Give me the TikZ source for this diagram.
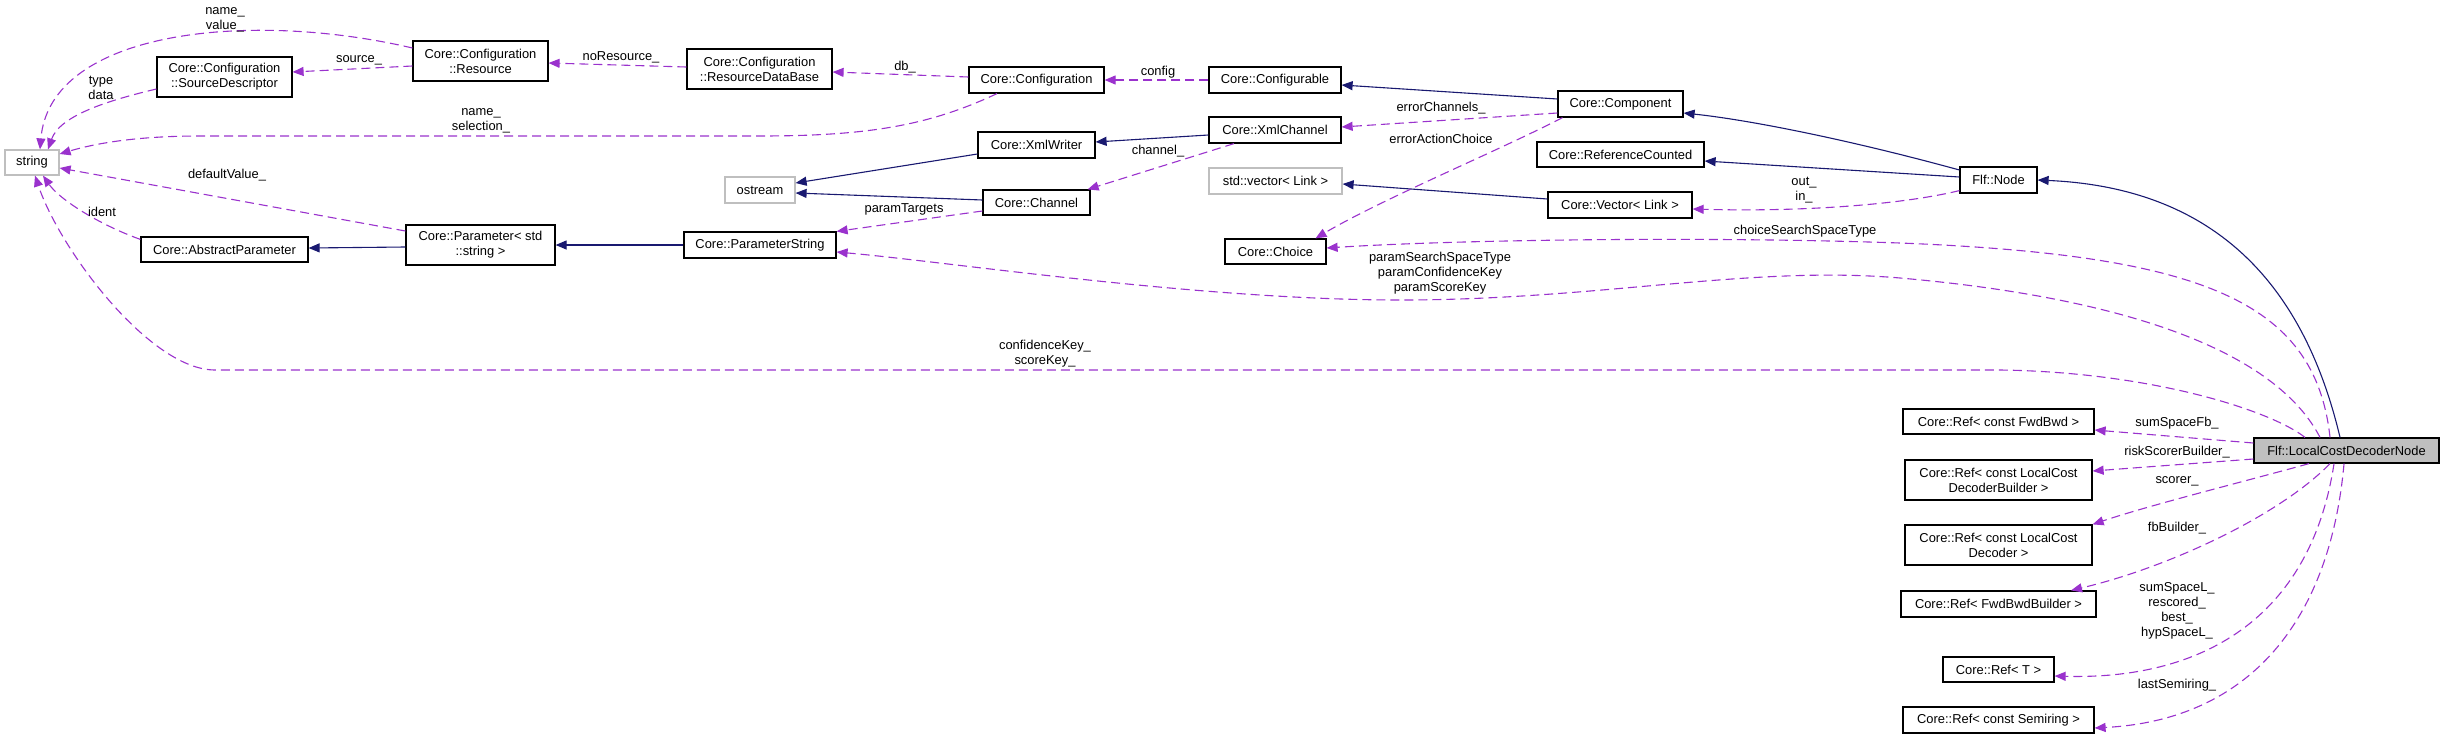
\documentclass[tikz,border=0pt]{standalone}
\usepackage{fontspec}
\setmainfont{Liberation Sans}
\usetikzlibrary{arrows.meta,calc}
\definecolor{depc}{HTML}{9A32CD}
\definecolor{inhc}{HTML}{191970}
\definecolor{gborder}{HTML}{BFBFBF}
\begin{document}
\begin{tikzpicture}[x=0.5pt,y=-0.5pt,
  font=\fontsize{6.45}{7.4}\selectfont,
  cls/.style={draw=black, line width=0.6pt, fill=white, inner sep=0pt, align=center},
  ext/.style={cls, draw=gborder},
  cur/.style={cls, fill=gborder},
  sz/.style 2 args={minimum width=#1*0.5pt, minimum height=#2*0.5pt},
  dep/.style={draw=depc, line width=0.55pt, dash pattern=on 4.5pt off 2.5pt, -{Triangle[length=5.5pt,width=4.5pt]}},
  inh/.style={draw=inhc, line width=0.55pt, -{Triangle[length=5.5pt,width=4.5pt]}},
  lab/.style={inner sep=0pt, align=center}]
\useasboundingbox (0,0) rectangle (2444,739);
% nodes
\node[ext, sz={54}{25}] (string) at (32,162.5) {string};
\node[cls, sz={135}{40}] (sd) at (224.5,77) {Core::Configuration\\::SourceDescriptor};
\node[cls, sz={135}{40}] (resource) at (480.5,61) {Core::Configuration\\::Resource};
\node[cls, sz={145}{40}] (rdb) at (759.5,69) {Core::Configuration\\::ResourceDataBase};
\node[cls, sz={135}{26}] (conf) at (1036.5,80) {Core::Configuration};
\node[cls, sz={132}{26}] (confable) at (1275,80) {Core::Configurable};
\node[cls, sz={125}{26}] (comp) at (1620.5,104) {Core::Component};
\node[cls, sz={117}{26}] (xmlw) at (1036.5,145) {Core::XmlWriter};
\node[cls, sz={132}{26}] (xmlc) at (1275,130) {Core::XmlChannel};
\node[ext, sz={70}{26}] (ostream) at (760,190) {ostream};
\node[cls, sz={107}{25}] (channel) at (1036.5,202.5) {Core::Channel};
\node[cls, sz={167}{25}] (refc) at (1620.5,154.5) {Core::ReferenceCounted};
\node[cls, sz={77}{26}] (flf) at (1998.5,180) {Flf::Node};
\node[ext, sz={133}{26}] (stdvec) at (1275.5,181) {std::vector< Link >};
\node[cls, sz={144}{26}] (vec) at (1620,205) {Core::Vector< Link >};
\node[cls, sz={101}{25}] (choice) at (1275.5,251.5) {Core::Choice};
\node[cls, sz={167}{25}] (absp) at (224.5,249.5) {Core::AbstractParameter};
\node[cls, sz={149}{40}] (param) at (480.5,245) {Core::Parameter< std\\::string >};
\node[cls, sz={152}{26}] (ps) at (760,245) {Core::ParameterString};
\node[cls, sz={191}{25}] (fwdbwd) at (1998.5,421.5) {Core::Ref< const FwdBwd >};
\node[cur, sz={185}{25}] (lcdn) at (2346.5,450.5) {Flf::LocalCostDecoderNode};
\node[cls, sz={187}{40}] (lcdb) at (1998.5,480) {Core::Ref< const LocalCost\\DecoderBuilder >};
\node[cls, sz={187}{40}] (lcd) at (1998.5,545) {Core::Ref< const LocalCost\\Decoder >};
\node[cls, sz={195}{26}] (fbb) at (1998.5,604) {Core::Ref< FwdBwdBuilder >};
\node[cls, sz={111}{25}] (reft) at (1998.5,669.5) {Core::Ref< T >};
\node[cls, sz={191}{26}] (semi) at (1998.5,720) {Core::Ref< const Semiring >};
% inheritance edges
\draw[inh] ($(comp.west)+(0,-5)$) -- ($(confable.east)+(0,5)$);
\draw[inh] ($(xmlc.west)+(0,5)$) -- ($(xmlw.east)+(0,-3)$);
\draw[inh] ($(xmlw.west)+(0,9)$) -- ($(ostream.east)+(0,-7)$);
\draw[inh] ($(channel.west)+(0,-2.5)$) -- ($(ostream.east)+(0,3)$);
\draw[inh] ($(flf.west)+(0,-10)$) .. controls (1850,140) and (1750,120) .. ($(comp.east)+(0,9)$);
\draw[inh] ($(flf.west)+(0,-3)$) -- ($(refc.east)+(0,6.5)$);
\draw[inh] ($(vec.west)+(0,-6)$) -- ($(stdvec.east)+(0,3)$);
\draw[inh] ($(param.west)+(0,2)$) -- ($(absp.east)+(0,-1.5)$);
\draw[inh] (ps.west) -- (param.east);
\draw[inh] ($(lcdn.north)+(-6.5,0)$) .. controls (2305,290) and (2220,188) .. (flf.east);
% dependency edges
\draw[dep] ($(resource.west)+(0,-13)$) .. controls (250,10) and (50,30) .. ($(string.north)+(8,0)$);
\draw[dep] ($(sd.west)+(0,12)$) .. controls (110,100) and (60,115) .. ($(string.north)+(16,0)$);
\draw[dep] ($(resource.west)+(0,5)$) -- ($(sd.east)+(0,-5)$);
\draw[dep] ($(rdb.west)+(0,-2)$) -- ($(resource.east)+(0,2)$);
\draw[dep] ($(conf.west)+(0,-3)$) -- ($(rdb.east)+(0,3)$);
\draw[dep] (confable.west) -- (conf.east);
\draw[dep] ($(conf.south)+(-39.5,0)$) .. controls (930,125) and (870,136) .. (760,136) -- (200,136) .. controls (130,136) and (90,145) .. ($(string.east)+(0,-8.5)$);
\draw[dep] ($(comp.west)+(0,9)$) -- ($(xmlc.east)+(0,-3)$);
\draw[dep] ($(comp.south)+(-58,0)$) .. controls (1500,150) and (1380,200) .. ($(choice.north)+(40,0)$);
\draw[dep] ($(xmlc.south)+(-41,0)$) -- ($(channel.north east)+(-3,0)$);
\draw[dep] ($(channel.west)+(0,8.5)$) -- (ps.north east);
\draw[dep] ($(flf.south west)+(0,-3)$) .. controls (1900,205) and (1800,212) .. ($(vec.east)+(0,4)$);
\draw[dep] ($(absp.north west)+(0,3)$) .. controls (100,225) and (60,200) .. ($(string.south)+(11,0)$);
\draw[dep] ($(param.west)+(0,-14)$) -- ($(string.east)+(0,5.5)$);
\draw[dep] ($(lcdn.north)+(-41.5,0)$) .. controls (2270,410) and (2150,372) .. (2000,370) -- (215,370) .. controls (150,370) and (60,250) .. ($(string.south)+(3,0)$);
\draw[dep] ($(lcdn.north)+(-16.5,0)$) .. controls (2315,300) and (2200,255) .. (1900,243) .. controls (1700,236) and (1450,240) .. ($(choice.east)+(0,-3.5)$);
\draw[dep] ($(lcdn.north)+(-26.5,0)$) .. controls (2280,360) and (2150,300) .. (1900,278) .. controls (1750,265) and (1600,300) .. (1400,300) .. controls (1200,300) and (950,262) .. ($(ps.east)+(0,7)$);
\draw[dep] ($(lcdn.west)+(0,-7.5)$) -- ($(fwdbwd.east)+(0,8.5)$);
\draw[dep] ($(lcdn.west)+(0,8.5)$) -- ($(lcdb.east)+(0,-9)$);
\draw[dep] ($(lcdn.south)+(-37.5,0)$) .. controls (2250,480) and (2150,505) .. (lcd.north east);
\draw[dep] ($(lcdn.south)+(-16.5,0)$) .. controls (2280,515) and (2170,567) .. ($(fbb.north)+(72.5,0)$);
\draw[dep] ($(lcdn.south)+(-12.5,0)$) .. controls (2310,620) and (2200,680) .. ($(reft.east)+(0,6.5)$);
\draw[dep] ($(lcdn.south)+(-2.5,0)$) .. controls (2330,620) and (2250,720) .. ($(semi.east)+(0,8)$);
% labels
\node[lab] (l1) at (225,19.5) {name\_\\value\_};
\node[lab] (l2) at (101,87.5) {type\\data};
\node[lab] (l3) at (359,60) {source\_};
\node[lab] (l4) at (621,57) {noResource\_};
\node[lab] (l5) at (905,67) {db\_};
\node[lab] (l6) at (1158,72) {config};
\node[lab] (l7) at (481,120.5) {name\_\\selection\_};
\node[lab] (l8) at (227,175) {defaultValue\_};
\node[lab] (l9) at (102,212) {ident};
\node[lab] (l10) at (1441,108) {errorChannels\_};
\node[lab] (l11) at (1441,139) {errorActionChoice};
\node[lab] (l12) at (1158,151) {channel\_};
\node[lab] (l13) at (904,209) {paramTargets};
\node[lab] (l14) at (1804,190) {out\_\\in\_};
\node[lab] (l15) at (1805,231) {choiceSearchSpaceType};
\node[lab] (l16) at (1440,273) {paramSearchSpaceType\\paramConfidenceKey\\paramScoreKey};
\node[lab] (l17) at (1045,354) {confidenceKey\_\\scoreKey\_};
\node[lab] (l18) at (2177,423) {sumSpaceFb\_};
\node[lab] (l19) at (2177,452) {riskScorerBuilder\_};
\node[lab] (l20) at (2177,481) {scorer\_};
\node[lab] (l21) at (2177,528) {fbBuilder\_};
\node[lab] (l22) at (2177,611) {sumSpaceL\_\\rescored\_\\best\_\\hypSpaceL\_};
\node[lab] (l23) at (2177,685) {lastSemiring\_};
\end{tikzpicture}
\end{document}
